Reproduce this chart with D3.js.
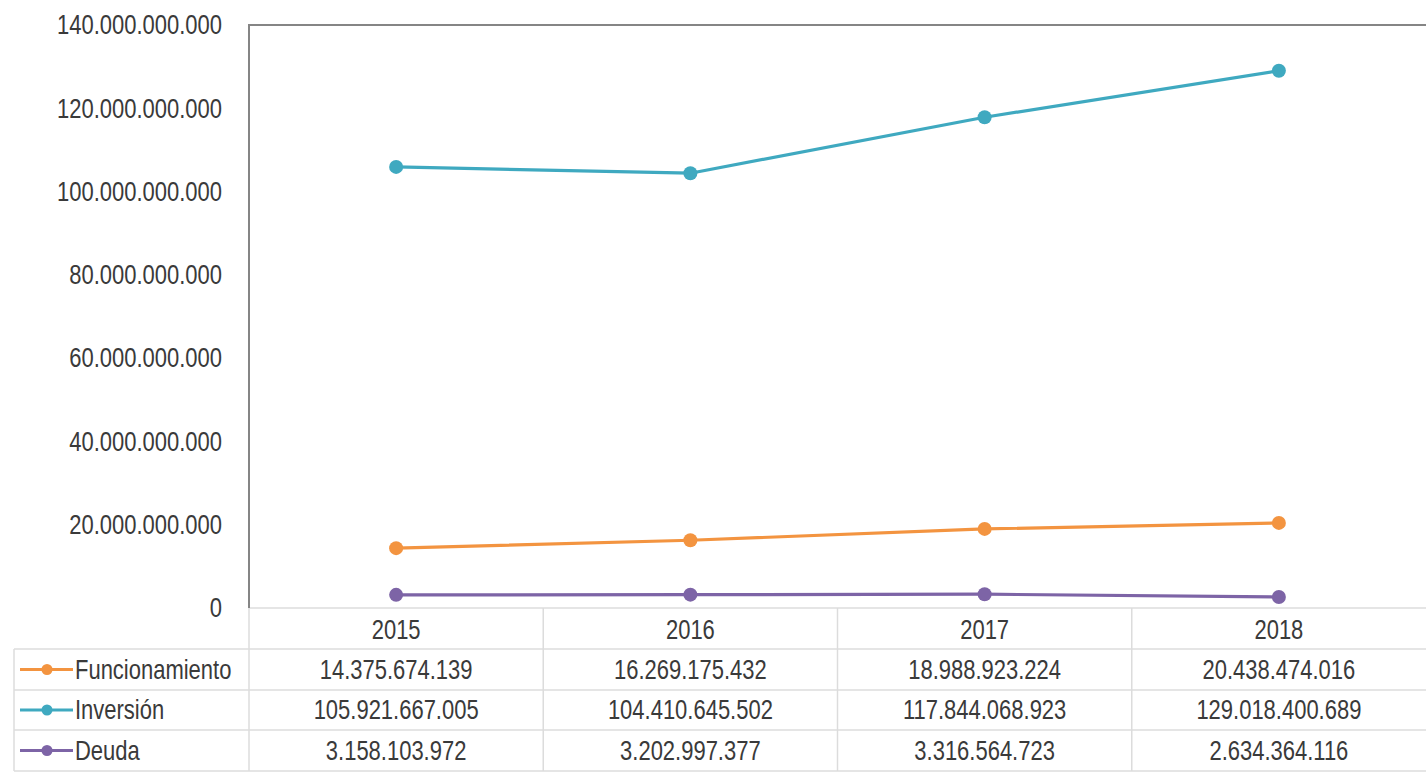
<!DOCTYPE html>
<html>
<head>
<meta charset="utf-8">
<script src="https://cdn.jsdelivr.net/npm/d3@7"></script>
<style>
  html, body { margin: 0; padding: 0; background: #fff; }
  svg { display: block; }
  text { font-family: "Liberation Sans", Arial, sans-serif; fill: #3a3a3a; }
</style>
</head>
<body>
<svg id="chart" width="1426" height="777"></svg>
<script>
// Presupuesto por año (pesos)
const years = ["2015", "2016", "2017", "2018"];
const seriesNames = ["Funcionamiento", "Inversión", "Deuda"];
const funcionamiento = [14375674139, 16269175432, 18988923224, 20438474016];
const inversion = [105921667005, 104410645502, 117844068923, 129018400689];
const deuda = [3158103972, 3202997377, 3316564723, 2634364116];
const seriesColors = ["#f39440", "#3fa9c0", "#7d64a6"];
const yTicks = [0, 20e9, 40e9, 60e9, 80e9, 100e9, 120e9, 140e9];

const series = [funcionamiento, inversion, deuda].map((values, i) => ({
  name: seriesNames[i], color: seriesColors[i], values
}));

const svg = d3.select("#chart");
const plot = { left: 249, right: 1426, top: 25, bottom: 608 };
const tableRows = [649, 690, 730, 771];  // horizontal rule positions under the year row
const tableLeft = 14;
const textScaleY = 1.22;

const x = d3.scaleBand().domain(years).range([plot.left, plot.right]).padding(0);
const y = d3.scaleLinear().domain([0, 140e9]).range([plot.bottom, plot.top]);

const fmt = v => d3.format(",")(v).replace(/,/g, ".");

function label(g, px, py, txt, anchor) {
  return g.append("text")
    .attr("transform", `translate(${px},${py}) scale(1,${textScaleY})`)
    .attr("text-anchor", anchor)
    .attr("dominant-baseline", "central")
    .style("font-size", "22px")
    .text(txt);
}

// Y-axis tick labels
const yAxisG = svg.append("g");
yTicks.forEach(t => {
  label(yAxisG, 222, y(t), t === 0 ? "0" : fmt(t), "end");
});

// Data table grid
const grid = svg.append("g").attr("stroke", "#dcdcdc").attr("stroke-width", 1.5);
grid.append("line").attr("x1", plot.left).attr("x2", plot.right)
  .attr("y1", plot.bottom).attr("y2", plot.bottom);
tableRows.forEach(ry => {
  grid.append("line").attr("x1", tableLeft).attr("x2", plot.right).attr("y1", ry).attr("y2", ry);
});
grid.append("line").attr("x1", tableLeft).attr("x2", tableLeft)
  .attr("y1", tableRows[0]).attr("y2", tableRows[3]);
years.forEach((yr, i) => {
  if (i === 0) return;
  grid.append("line").attr("x1", x(yr)).attr("x2", x(yr))
    .attr("y1", plot.bottom).attr("y2", tableRows[3]);
});
grid.append("line").attr("x1", plot.left).attr("x2", plot.left)
  .attr("y1", plot.bottom).attr("y2", tableRows[3]);

// Plot frame: left axis and top edge
const frame = svg.append("g").attr("stroke", "#858585").attr("stroke-width", 2).attr("fill", "none");
frame.append("path").attr("d", `M${plot.right},${plot.top}H${plot.left}V${plot.bottom}`);

// Year header row
const header = svg.append("g");
years.forEach(yr => {
  label(header, x(yr) + x.bandwidth() / 2, (plot.bottom + tableRows[0]) / 2 + 1, yr, "middle");
});

// Table rows: legend key, series name, values
const body = svg.append("g");
series.forEach((s, i) => {
  const cy = (tableRows[i] + tableRows[i + 1]) / 2;
  body.append("line").attr("x1", 20).attr("x2", 73).attr("y1", cy).attr("y2", cy)
    .attr("stroke", s.color).attr("stroke-width", 3);
  body.append("circle").attr("cx", 47).attr("cy", cy).attr("r", 5.5).attr("fill", s.color);
  label(body, 75, cy, s.name, "start");
  s.values.forEach((v, j) => {
    label(body, x(years[j]) + x.bandwidth() / 2, cy, fmt(v), "middle");
  });
});

// Series lines and markers
const line = d3.line()
  .x((d, i) => x(years[i]) + x.bandwidth() / 2)
  .y(d => y(d));

const lines = svg.append("g");
series.forEach(s => {
  lines.append("path").datum(s.values)
    .attr("d", line)
    .attr("fill", "none")
    .attr("stroke", s.color)
    .attr("stroke-width", 3.2)
    .attr("stroke-linejoin", "round");
  lines.selectAll(null).data(s.values).enter().append("circle")
    .attr("cx", (d, i) => x(years[i]) + x.bandwidth() / 2)
    .attr("cy", d => y(d))
    .attr("r", 7)
    .attr("fill", s.color);
});
</script>
</body>
</html>
